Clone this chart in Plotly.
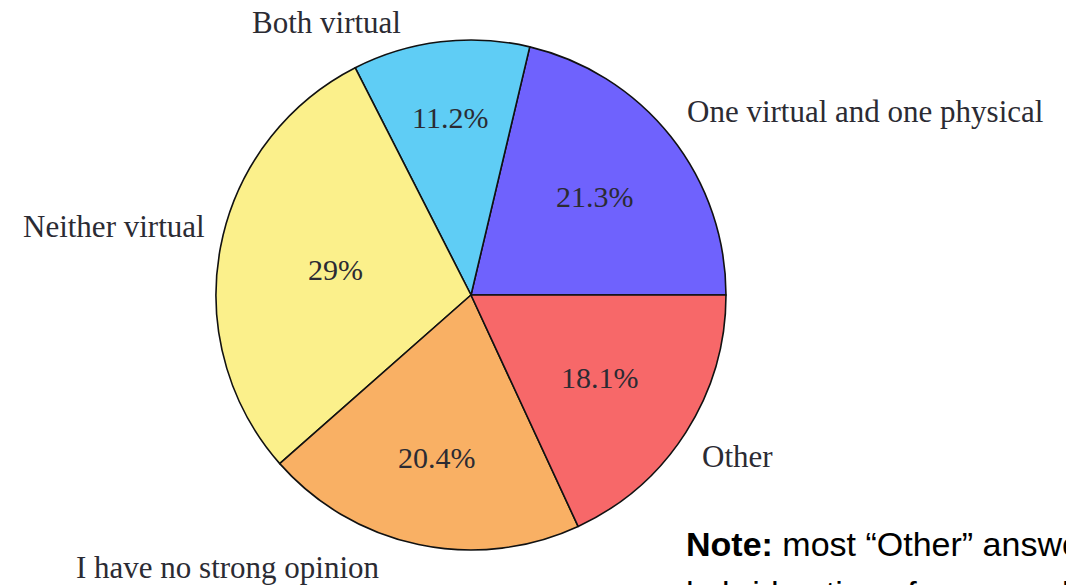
import math
import plotly.graph_objects as go

# survey answers, counter-clockwise from 3 o'clock
labels = ["One virtual and one physical", "Both virtual", "Neither virtual",
          "I have no strong opinion", "Other"]
shares = [21.3, 11.2, 29.0, 20.4, 18.1]
pct_text = ["21.3%", "11.2%", "29%", "20.4%", "18.1%"]
colors = ["#6f62fd", "#5fcdf5", "#fbf08b", "#f9b064", "#f76869"]

W, H = 1066, 585
CX, CY, R = 471, 295, 255   # pie centre and radius in pixels
SERIF = "Liberation Serif"
TXT = "#2b2b33"

total = sum(shares)
# plotly's counterclockwise pie puts the end of the first slice at `rotation`,
# so turn it until the first slice starts at 3 o'clock
rot = 90 - shares[0] / total * 360

fig = go.Figure(go.Pie(
    labels=labels,
    values=shares,
    sort=False,
    direction="counterclockwise",
    rotation=rot,
    marker=dict(colors=colors, line=dict(color="#111111", width=1.6)),
    textinfo="none",
    hoverinfo="label+percent",
    domain=dict(x=[(CX - R) / W, (CX + R) / W], y=[1 - (CY + R) / H, 1 - (CY - R) / H]),
))

# percentage labels inside each slice (radial fraction per slice)
text_r = [0.62, 0.70, 0.54, 0.65, 0.60]
annotations = []
start = 0.0
for val, txt, fr in zip(shares, pct_text, text_r):
    mid = (start + val / 2) / total * 2 * math.pi
    start += val
    tx = CX + fr * R * math.cos(mid)
    ty = CY - fr * R * math.sin(mid)
    annotations.append(dict(x=tx / W, y=1 - ty / H, xref="paper", yref="paper",
                            text=txt, showarrow=False, xanchor="center", yanchor="middle",
                            font=dict(family=SERIF, size=30, color=TXT)))

# outside labels (placed as in the original figure)
label_pos = [(685, 111, "left"), (326, 23, "center"), (207, 227, "right"),
             (228, 567, "center"), (737, 456, "center")]
for lab, (lx, ly, anc) in zip(labels, label_pos):
    annotations.append(dict(x=lx / W, y=1 - ly / H, xref="paper", yref="paper",
                            text=lab, showarrow=False, xanchor=anc, yanchor="middle",
                            font=dict(family=SERIF, size=31, color=TXT)))

# note, running off the right/bottom edge like in the source slide
annotations.append(dict(x=684 / W, y=1 - 544 / H, xref="paper", yref="paper",
                        text="<b>Note:</b> most “Other” answers were", showarrow=False,
                        xanchor="left", yanchor="middle",
                        font=dict(family="Liberation Sans", size=34, color="#000000")))
annotations.append(dict(x=684 / W, y=1 - 593 / H, xref="paper", yref="paper",
                        text="hybrid options for one or both", showarrow=False,
                        xanchor="left", yanchor="middle",
                        font=dict(family="Liberation Sans", size=34, color="#000000")))

fig.update_layout(
    width=W, height=H,
    margin=dict(l=0, r=0, t=0, b=0),
    paper_bgcolor="white",
    showlegend=False,
    annotations=annotations,
)

fig.write_html("out.html", config={"displayModeBar": False},
               post_script="document.body.style.margin='0';")
